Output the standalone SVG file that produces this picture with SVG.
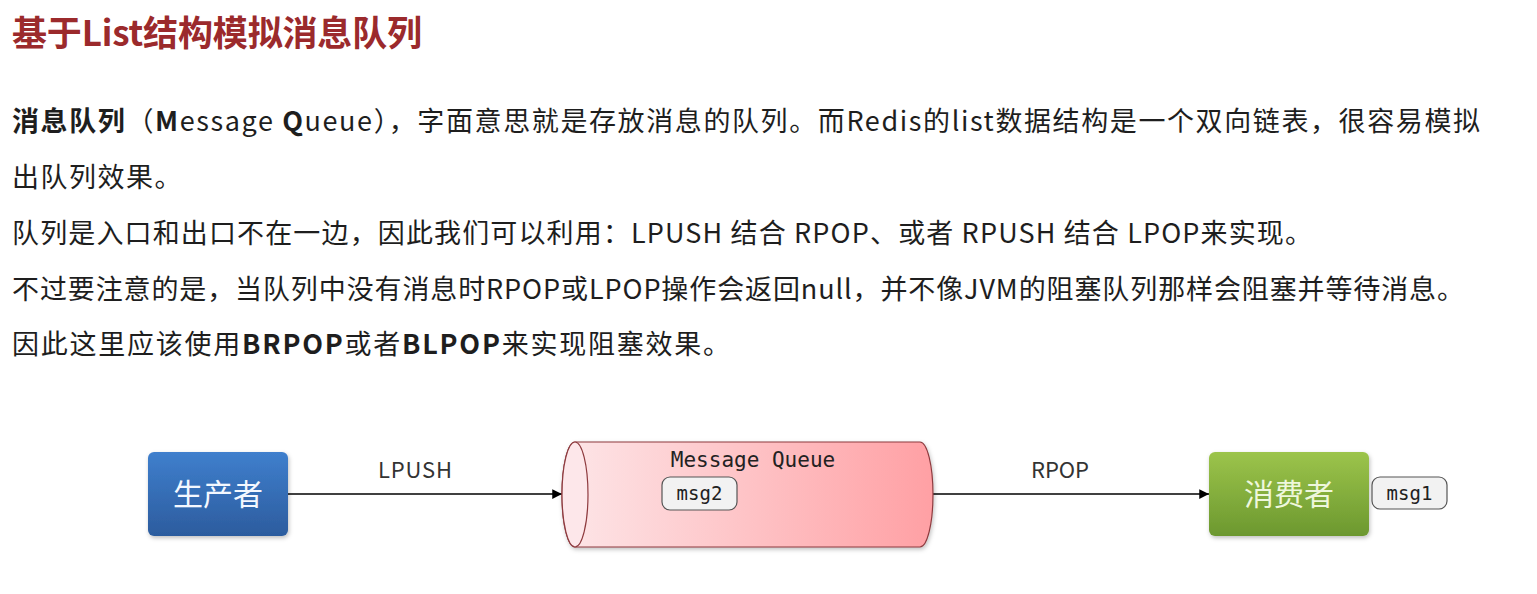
<svg xmlns="http://www.w3.org/2000/svg" width="1537" height="594" viewBox="0 0 1537 594">
<style>
.title{font-family:"Noto Sans CJK SC",sans-serif;font-size:35px;font-weight:bold;fill:#9b2a2c}
.body{font-family:"Noto Sans CJK SC",sans-serif;font-size:27px;fill:#1e1e1e}
.b{font-weight:bold}
.lbl{font-family:"Noto Sans CJK SC",sans-serif;font-size:22px;fill:#333}
.mono{font-family:"DejaVu Sans Mono","Liberation Mono",monospace;fill:#222}
.node{font-family:"Noto Sans CJK SC",sans-serif;font-size:30px;text-anchor:middle}
.conn{stroke:#000;stroke-width:1.5;fill:none}
.pill{fill:#f2f2f2;stroke:#555;stroke-width:1.2}
</style>
<defs>
<linearGradient id="gBlue" x1="0" y1="0" x2="0" y2="1">
<stop offset="0" stop-color="#3f7fcd"/>
<stop offset="1" stop-color="#2c5c9e"/>
</linearGradient>
<linearGradient id="gGreen" x1="0" y1="0" x2="0" y2="1">
<stop offset="0" stop-color="#9cc44b"/>
<stop offset="1" stop-color="#6c982f"/>
</linearGradient>
<linearGradient id="gPink" x1="0" y1="0" x2="1" y2="0">
<stop offset="0" stop-color="#fde6e8"/>
<stop offset="1" stop-color="#ffa0a4"/>
</linearGradient>
<filter id="sh" x="-10%" y="-10%" width="125%" height="130%">
<feDropShadow dx="1" dy="2" stdDeviation="2" flood-color="#000" flood-opacity="0.25"/>
</filter>
<marker id="arr" viewBox="0 0 10 10" refX="10" refY="5" markerWidth="6.5" markerHeight="6.5" orient="auto" markerUnits="strokeWidth">
<path d="M0,0 L10,5 L0,10 Z" fill="#000"/>
</marker>
</defs>

<text class="title" x="12" y="46" textLength="410" lengthAdjust="spacing">基于List结构模拟消息队列</text>

<g id="paragraph">
<text class="body" x="12" y="131" textLength="1468" lengthAdjust="spacing"><tspan class="b">消息队列</tspan>（<tspan class="b">M</tspan>essage <tspan class="b">Q</tspan>ueue），字面意思就是存放消息的队列。而Redis的list数据结构是一个双向链表，很容易模拟</text>
<text class="body" x="12" y="187" letter-spacing="1.5">出队列效果。</text>
<text class="body" x="12" y="243" textLength="1300" lengthAdjust="spacing">队列是入口和出口不在一边，因此我们可以利用：LPUSH 结合 RPOP、或者 RPUSH 结合 LPOP来实现。</text>
<text class="body" x="12" y="299" textLength="1452" lengthAdjust="spacing">不过要注意的是，当队列中没有消息时RPOP或LPOP操作会返回null，并不像JVM的阻塞队列那样会阻塞并等待消息。</text>
<text class="body" x="12" y="354" textLength="718" lengthAdjust="spacing">因此这里应该使用<tspan class="b">BRPOP</tspan>或者<tspan class="b">BLPOP</tspan>来实现阻塞效果。</text>
</g>

<g id="connectors">
<line class="conn" x1="288" y1="494" x2="562" y2="494" marker-end="url(#arr)"/>
<text class="lbl" x="378" y="478" textLength="74" lengthAdjust="spacing">LPUSH</text>
<line class="conn" x1="933" y1="494" x2="1209" y2="494" marker-end="url(#arr)"/>
<text class="lbl" x="1031" y="478" textLength="58" lengthAdjust="spacing">RPOP</text>
</g>

<g id="producer">
<rect x="148" y="452" width="140" height="84" rx="6" fill="url(#gBlue)" filter="url(#sh)"/>
<text class="node" x="218" y="505" fill="#f4f8ff">生产者</text>
</g>

<g id="queue">
<path d="M575,442 L920,442 A13,52.5 0 0 1 920,547 L575,547 A13,52.5 0 0 1 575,442 Z" fill="url(#gPink)" stroke="#8e3b3f" stroke-width="1.2" filter="url(#sh)"/>
<ellipse cx="575" cy="494.5" rx="13" ry="52.5" fill="#fde7ea" stroke="#8e3b3f" stroke-width="1.2"/>
<text class="mono" x="753" y="467" font-size="21" text-anchor="middle">Message Queue</text>
<rect class="pill" x="662" y="477" width="75" height="33" rx="8"/>
<text class="mono" x="699.5" y="500" font-size="19" text-anchor="middle">msg2</text>
</g>

<g id="consumer">
<rect x="1209" y="452" width="160" height="84" rx="6" fill="url(#gGreen)" filter="url(#sh)"/>
<text class="node" x="1289" y="505" fill="#eef7dc">消费者</text>
<rect class="pill" x="1372" y="477" width="75" height="32" rx="8"/>
<text class="mono" x="1409.5" y="500" font-size="19" text-anchor="middle">msg1</text>
</g>
</svg>
